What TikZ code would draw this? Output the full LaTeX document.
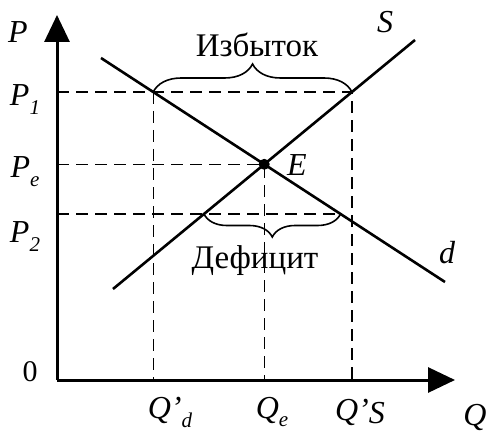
\documentclass[tikz,border=0pt]{standalone}
\usepackage{fontspec}
\setmainfont{Liberation Serif}
\usetikzlibrary{arrows.meta,decorations.pathreplacing,intersections}
\newcommand{\varsub}[2]{\textit{#1}\raisebox{-0.28em}{\fontsize{21}{21}\selectfont\textit{#2}}}
\tikzset{
  axisline/.style={line width=3pt, -{Triangle[length=27pt,width=25pt]}},
  curveline/.style={line width=2.6pt},
  guide/.style={line width=1.2pt, dash pattern=on 12pt off 7pt},
  bracket/.style={line width=1.6pt, decorate, decoration={brace, amplitude=#1}},
  lbl/.style={font=\fontsize{32}{36}\selectfont\itshape, inner sep=0pt},
  word/.style={font=\fontsize{33}{36}\selectfont, inner sep=0pt},
}

\begin{document}
\begin{tikzpicture}[x=1pt,y=1pt]
\useasboundingbox (0,0) rectangle (495,442);
% axes
\coordinate (O) at (57,62);
\coordinate (ytop) at (57,427);
\coordinate (xend) at (455,62);
\draw[axisline] (O) -- (ytop);
\draw[axisline] (O) -- (xend);
% demand and supply
\coordinate (d1) at (101,384);
\coordinate (d2) at (445,160);
\coordinate (s1) at (113,153);
\coordinate (s2) at (415,402);
\draw[curveline, name path=dem] (d1) -- (d2);
\draw[curveline, name path=sup] (s1) -- (s2);
\path[name path=lvl1] (57,350) -- (480,350);
\path[name path=lvl2] (57,228) -- (480,228);
\path[name intersections={of=dem and sup, by=E}];
\path[name intersections={of=dem and lvl1, by=dp1}];
\path[name intersections={of=sup and lvl1, by=sp1}];
\path[name intersections={of=dem and lvl2, by=dp2}];
\path[name intersections={of=sup and lvl2, by=sp2}];
% dashed guides
\draw[guide] (O |- sp1) -- (sp1) -- (sp1 |- O);
\draw[guide] (dp1) -- (dp1 |- O);
\draw[guide] (O |- E) -- (E) -- (E |- O);
\draw[guide] (O |- dp2) -- (dp2);
\node[circle, fill, inner sep=0pt, minimum size=11pt] (Edot) at (E) {};
% braces
\draw[bracket=28pt] (dp1) -- (sp1);
\draw[bracket=23pt] (dp2) -- (sp2);
\node[word] (surplus) at (257,397) {Избыток};
\node[word] (shortage) at (255,181) {Дефицит};
% labels
\node[lbl] (lp) at (18,410) {P};
\node[lbl] (lp1) at (25,342) {\varsub{P}{1}};
\node[lbl] (lpe) at (25,270) {\varsub{P}{e}};
\node[lbl] (lp2) at (25,205) {\varsub{P}{2}};
\node[lbl, font=\fontsize{30}{36}\selectfont] (l0) at (30,70) {0};
\node[lbl] (lqd) at (170,30) {\varsub{Q'}{d}};
\node[lbl] (lqe) at (272,30) {\varsub{Q}{e}};
\node[lbl] (lqs) at (360,30) {Q'\raisebox{-0.1em}{S}};
\node[lbl] (lq) at (475,25) {Q};
\node[lbl] (ls) at (385,420) {S};
\node[lbl] (le) at (297,277) {E};
\node[lbl] (ld) at (447,189) {d};
\end{tikzpicture}
\end{document}
